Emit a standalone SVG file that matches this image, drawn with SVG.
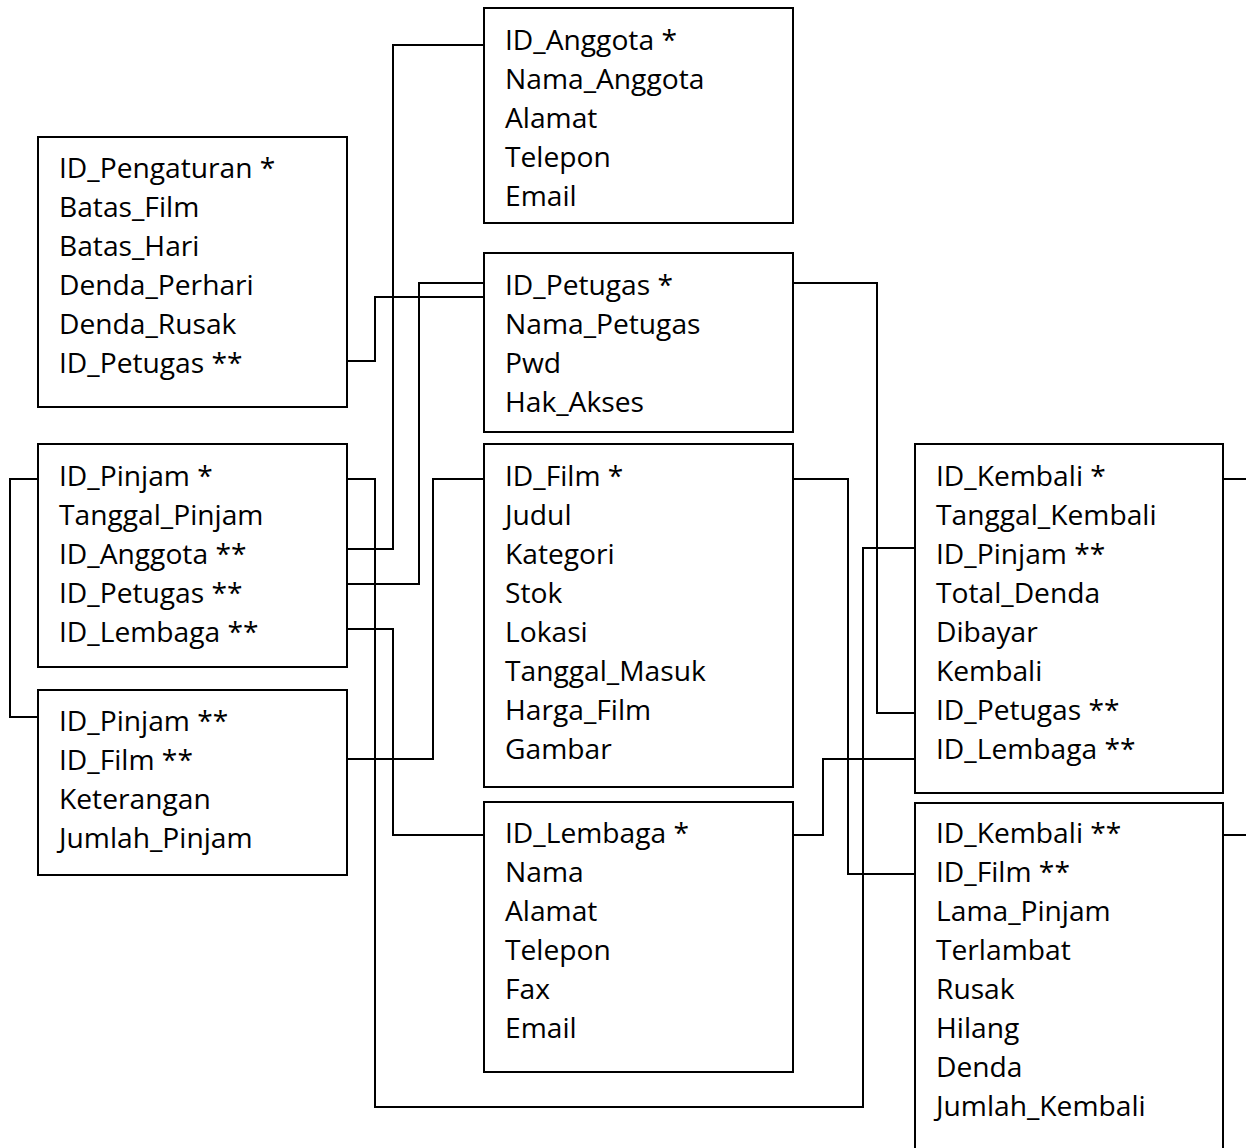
<svg xmlns="http://www.w3.org/2000/svg" width="1246" height="1148" viewBox="0 0 1246 1148">
<style>
.box{fill:#fff;stroke:#000;stroke-width:2}
.t{font-family:"Open Sans","Liberation Sans",sans-serif;font-size:28.2px;fill:#000}
.c{fill:none;stroke:#000;stroke-width:2}
</style>
<rect width="1246" height="1148" fill="#fff"/>
<g id="connectors">
<path class="c" d="M484,45 H393 V549 H347"/>
<path class="c" d="M347,361 H375 V297 H484"/>
<path class="c" d="M347,584 H419 V283 H484"/>
<path class="c" d="M347,479 H375 V1107 H863 V548 H915"/>
<path class="c" d="M484,479 H433 V759 H347"/>
<path class="c" d="M347,629 H393 V835 H484"/>
<path class="c" d="M38,479 H10 V717 H38"/>
<path class="c" d="M793,283 H877 V713 H915"/>
<path class="c" d="M793,479 H848 V874 H915"/>
<path class="c" d="M793,835 H823 V759 H915"/>
<path class="c" d="M1223,479 H1260 V835 H1223"/>
</g>
<g id="anggota">
<rect class="box" x="484" y="8" width="309" height="215"/>
<text class="t" x="505" y="50">ID_Anggota *</text>
<text class="t" x="505" y="89">Nama_Anggota</text>
<text class="t" x="505" y="128">Alamat</text>
<text class="t" x="505" y="167">Telepon</text>
<text class="t" x="505" y="206">Email</text>
</g>
<g id="pengaturan">
<rect class="box" x="38" y="137" width="309" height="270"/>
<text class="t" x="59" y="178">ID_Pengaturan *</text>
<text class="t" x="59" y="217">Batas_Film</text>
<text class="t" x="59" y="256">Batas_Hari</text>
<text class="t" x="59" y="295">Denda_Perhari</text>
<text class="t" x="59" y="334">Denda_Rusak</text>
<text class="t" x="59" y="373">ID_Petugas **</text>
</g>
<g id="petugas">
<rect class="box" x="484" y="253" width="309" height="179"/>
<text class="t" x="505" y="295">ID_Petugas *</text>
<text class="t" x="505" y="334">Nama_Petugas</text>
<text class="t" x="505" y="373">Pwd</text>
<text class="t" x="505" y="412">Hak_Akses</text>
</g>
<g id="pinjam">
<rect class="box" x="38" y="444" width="309" height="223"/>
<text class="t" x="59" y="486">ID_Pinjam *</text>
<text class="t" x="59" y="525">Tanggal_Pinjam</text>
<text class="t" x="59" y="564">ID_Anggota **</text>
<text class="t" x="59" y="603">ID_Petugas **</text>
<text class="t" x="59" y="642">ID_Lembaga **</text>
</g>
<g id="detail_pinjam">
<rect class="box" x="38" y="690" width="309" height="185"/>
<text class="t" x="59" y="731">ID_Pinjam **</text>
<text class="t" x="59" y="770">ID_Film **</text>
<text class="t" x="59" y="809">Keterangan</text>
<text class="t" x="59" y="848">Jumlah_Pinjam</text>
</g>
<g id="film">
<rect class="box" x="484" y="444" width="309" height="343"/>
<text class="t" x="505" y="486">ID_Film *</text>
<text class="t" x="505" y="525">Judul</text>
<text class="t" x="505" y="564">Kategori</text>
<text class="t" x="505" y="603">Stok</text>
<text class="t" x="505" y="642">Lokasi</text>
<text class="t" x="505" y="681">Tanggal_Masuk</text>
<text class="t" x="505" y="720">Harga_Film</text>
<text class="t" x="505" y="759">Gambar</text>
</g>
<g id="lembaga">
<rect class="box" x="484" y="802" width="309" height="270"/>
<text class="t" x="505" y="843">ID_Lembaga *</text>
<text class="t" x="505" y="882">Nama</text>
<text class="t" x="505" y="921">Alamat</text>
<text class="t" x="505" y="960">Telepon</text>
<text class="t" x="505" y="999">Fax</text>
<text class="t" x="505" y="1038">Email</text>
</g>
<g id="kembali">
<rect class="box" x="915" y="444" width="308" height="349"/>
<text class="t" x="936" y="486">ID_Kembali *</text>
<text class="t" x="936" y="525">Tanggal_Kembali</text>
<text class="t" x="936" y="564">ID_Pinjam **</text>
<text class="t" x="936" y="603">Total_Denda</text>
<text class="t" x="936" y="642">Dibayar</text>
<text class="t" x="936" y="681">Kembali</text>
<text class="t" x="936" y="720">ID_Petugas **</text>
<text class="t" x="936" y="759">ID_Lembaga **</text>
</g>
<g id="detail_kembali">
<rect class="box" x="915" y="803" width="308" height="370"/>
<text class="t" x="936" y="843">ID_Kembali **</text>
<text class="t" x="936" y="882">ID_Film **</text>
<text class="t" x="936" y="921">Lama_Pinjam</text>
<text class="t" x="936" y="960">Terlambat</text>
<text class="t" x="936" y="999">Rusak</text>
<text class="t" x="936" y="1038">Hilang</text>
<text class="t" x="936" y="1077">Denda</text>
<text class="t" x="936" y="1116">Jumlah_Kembali</text>
</g>
</svg>
